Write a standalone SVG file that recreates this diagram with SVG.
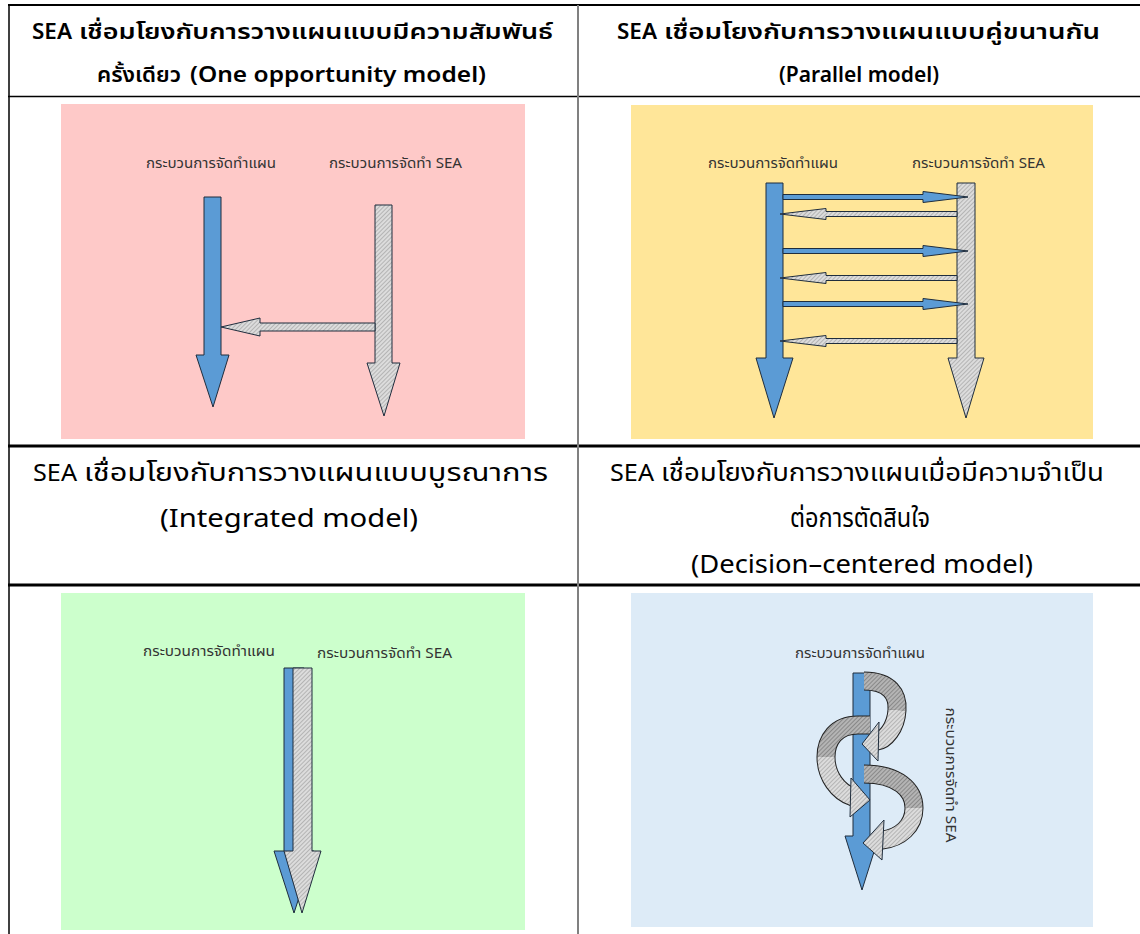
<svg xmlns="http://www.w3.org/2000/svg" width="1140" height="934" viewBox="0 0 1140 934">
<style>
.h1{font-family:"Noto Sans","Noto Sans Thai","Leelawadee UI",Tahoma,"DejaVu Sans",sans-serif;font-size:21px;font-weight:600;fill:#000}
.h3{font-family:"Noto Sans","Noto Sans Thai","Leelawadee UI",Tahoma,"DejaVu Sans",sans-serif;font-size:24px;font-weight:400;fill:#000}
.mid{text-anchor:middle}
.lbl{font-family:"Noto Sans","Noto Sans Thai","Leelawadee UI",Tahoma,"DejaVu Sans",sans-serif;font-size:14.5px;fill:#333;text-anchor:middle}
.blue{fill:#5B9BD5;stroke:#1f2d3d;stroke-width:1}
.gray{fill:url(#hatch);stroke:#1f2d3d;stroke-width:1}
.outl{fill:none;stroke:#222;stroke-width:19}
.bandL{fill:none;stroke:url(#hatch);stroke-width:17}
.bandD{fill:none;stroke:url(#hatchDark);stroke-width:17}
</style>
<defs>
<pattern id="hatch" width="3" height="3" patternUnits="userSpaceOnUse" patternTransform="rotate(45)">
<rect width="3" height="3" fill="#dcdcdc"/><line x1="0" y1="0" x2="0" y2="3" stroke="#8c8c8c" stroke-width="1"/>
</pattern>
<pattern id="hatchDark" width="3" height="3" patternUnits="userSpaceOnUse" patternTransform="rotate(45)">
<rect width="3" height="3" fill="#b4b4b4"/><line x1="0" y1="0" x2="0" y2="3" stroke="#5e5e5e" stroke-width="1"/>
</pattern>
</defs>
<rect width="1140" height="934" fill="#fff"/>

<g id="table">
<line x1="8" y1="5" x2="1140" y2="5" stroke="#000" stroke-width="2"/>
<line x1="9" y1="5" x2="9" y2="934" stroke="#000" stroke-width="1.5"/>
<line x1="8" y1="96.5" x2="1140" y2="96.5" stroke="#000" stroke-width="1.5"/>
<line x1="8" y1="446" x2="1140" y2="446" stroke="#000" stroke-width="3"/>
<line x1="8" y1="585" x2="1140" y2="585" stroke="#000" stroke-width="3"/>
<line x1="578" y1="5" x2="578" y2="934" stroke="#808080" stroke-width="2"/>
</g>

<g id="headers">
<text class="h1" x="32" y="39" textLength="40" lengthAdjust="spacingAndGlyphs">SEA</text>
<text class="h1" x="79" y="39" textLength="474" lengthAdjust="spacingAndGlyphs">เชื่อมโยงกับการวางแผนแบบมีความสัมพันธ์</text>
<text class="h1" x="97" y="82" textLength="84" lengthAdjust="spacingAndGlyphs">ครั้งเดียว</text>
<text class="h1" x="190" y="82" style="font-size:22px" textLength="296" lengthAdjust="spacingAndGlyphs">(One opportunity model)</text>
<text class="h1" x="617" y="39" textLength="40" lengthAdjust="spacingAndGlyphs">SEA</text>
<text class="h1" x="664" y="39" textLength="436" lengthAdjust="spacingAndGlyphs">เชื่อมโยงกับการวางแผนแบบคู่ขนานกัน</text>
<text class="h1 mid" x="859" y="82" style="font-size:22px" textLength="160" lengthAdjust="spacingAndGlyphs">(Parallel model)</text>

<text class="h3" x="33" y="481" textLength="44" lengthAdjust="spacingAndGlyphs">SEA</text>
<text class="h3" x="84" y="481" textLength="464" lengthAdjust="spacingAndGlyphs">เชื่อมโยงกับการวางแผนแบบบูรณาการ</text>
<text class="h3 mid" x="289" y="527" style="font-size:25px" textLength="258" lengthAdjust="spacingAndGlyphs">(Integrated model)</text>
<text class="h3" x="610" y="481" textLength="44" lengthAdjust="spacingAndGlyphs">SEA</text>
<text class="h3" x="661" y="481" textLength="443" lengthAdjust="spacingAndGlyphs">เชื่อมโยงกับการวางแผนเมื่อมีความจำเป็น</text>
<text class="h3 mid" x="860" y="527" style="font-size:26px" textLength="140" lengthAdjust="spacingAndGlyphs">ต่อการตัดสินใจ</text>
<text class="h3 mid" x="862" y="573" style="font-size:25px" textLength="342" lengthAdjust="spacingAndGlyphs">(Decision–centered model)</text>
</g>

<g id="panel-one">
<rect x="61" y="104" width="464" height="335" fill="#FEC9C8"/>
<text class="lbl" x="211" y="168" textLength="130" lengthAdjust="spacingAndGlyphs">กระบวนการจัดทำแผน</text>
<text class="lbl" x="395.5" y="168" textLength="133" lengthAdjust="spacingAndGlyphs">กระบวนการจัดทำ SEA</text>
<polygon class="blue" points="204,197 221,197 221,355 229,355 213,407 196,355 204,355"/>
<polygon class="gray" points="375,205 392,205 392,363 400,363 384,416 367,363 375,363"/>
<polygon class="gray" points="375,323 260,323 260,318 221,327 260,336 260,331 375,331"/>
</g>

<g id="panel-parallel">
<rect x="631" y="105" width="462" height="334" fill="#FFE699"/>
<text class="lbl" x="773" y="168" textLength="130" lengthAdjust="spacingAndGlyphs">กระบวนการจัดทำแผน</text>
<text class="lbl" x="978.5" y="168" textLength="133" lengthAdjust="spacingAndGlyphs">กระบวนการจัดทำ SEA</text>
<polygon class="blue" points="766,183 783,183 783,358 793,358 774,418 756,358 766,358"/>
<polygon class="gray" points="957,183 975,183 975,358 984,358 966,418 948,358 957,358"/>
<polygon class="blue" points="783,194.5 923,194.5 923,191.5 968,197 923,202.5 923,199.5 783,199.5"/>
<polygon class="gray" points="957,211.5 826,211.5 826,208.5 780,214 826,219.5 826,216.5 957,216.5"/>
<polygon class="blue" points="783,248.5 923,248.5 923,245.5 968,251 923,256.5 923,253.5 783,253.5"/>
<polygon class="gray" points="957,275.5 826,275.5 826,272.5 780,278 826,283.5 826,280.5 957,280.5"/>
<polygon class="blue" points="783,301.5 923,301.5 923,298.5 968,304 923,309.5 923,306.5 783,306.5"/>
<polygon class="gray" points="957,338.5 826,338.5 826,335.5 780,341 826,346.5 826,343.5 957,343.5"/>
</g>

<g id="panel-integrated">
<rect x="61" y="593" width="464" height="337" fill="#CCFFCC"/>
<text class="lbl" x="209" y="656" textLength="132" lengthAdjust="spacingAndGlyphs">กระบวนการจัดทำแผน</text>
<text class="lbl" x="384.5" y="658" textLength="135" lengthAdjust="spacingAndGlyphs">กระบวนการจัดทำ SEA</text>
<polygon class="blue" points="284,668 304,668 304,851 314,851 294,913 274,851 284,851"/>
<polygon class="gray" points="293,668 312,668 312,851 321,851 302,913 284,851 293,851"/>
</g>

<g id="panel-decision">
<rect x="631" y="593" width="462" height="334" fill="#DDEBF7"/>
<text class="lbl" x="860" y="658" textLength="130" lengthAdjust="spacingAndGlyphs">กระบวนการจัดทำแผน</text>
<text class="lbl" transform="translate(946,775) rotate(90)" x="0" y="0" textLength="135" lengthAdjust="spacingAndGlyphs">กระบวนการจัดทำ SEA</text>
<polygon class="blue" points="853,673 870,673 870,836 879,836 862,890 845,836 853,836"/>
<g id="loop2">
<path class="outl" d="M870 725 L858 725 C836 725 826 740 826 757 C826 776 838 792 853 797"/>
<path class="bandD" d="M870 725 L858 725 C836 725 826 740 826 757"/>
<path class="bandL" d="M826 757 C826 776 838 792 853 797"/>
<polygon class="gray" points="851,778 870,800 850,817"/>
</g>
<g id="loop1">
<path class="outl" d="M864 681 C890 681 898 695 897 710 C896 728 885 740 877 741"/>
<path class="bandD" d="M864 681 C890 681 898 695 897 710"/>
<path class="bandL" d="M897 710 C896 728 885 740 877 741"/>
<polygon class="gray" points="879,722 862,744 878,761"/>
</g>
<g id="loop3">
<path class="outl" d="M864 774 C898 774 914 790 914 808 C914 826 900 838 882 840"/>
<path class="bandD" d="M864 774 C898 774 914 790 914 808"/>
<path class="bandL" d="M914 808 C914 826 900 838 882 840"/>
<polygon class="gray" points="884,820 863,843 882,860"/>
</g>
</g>
</svg>
